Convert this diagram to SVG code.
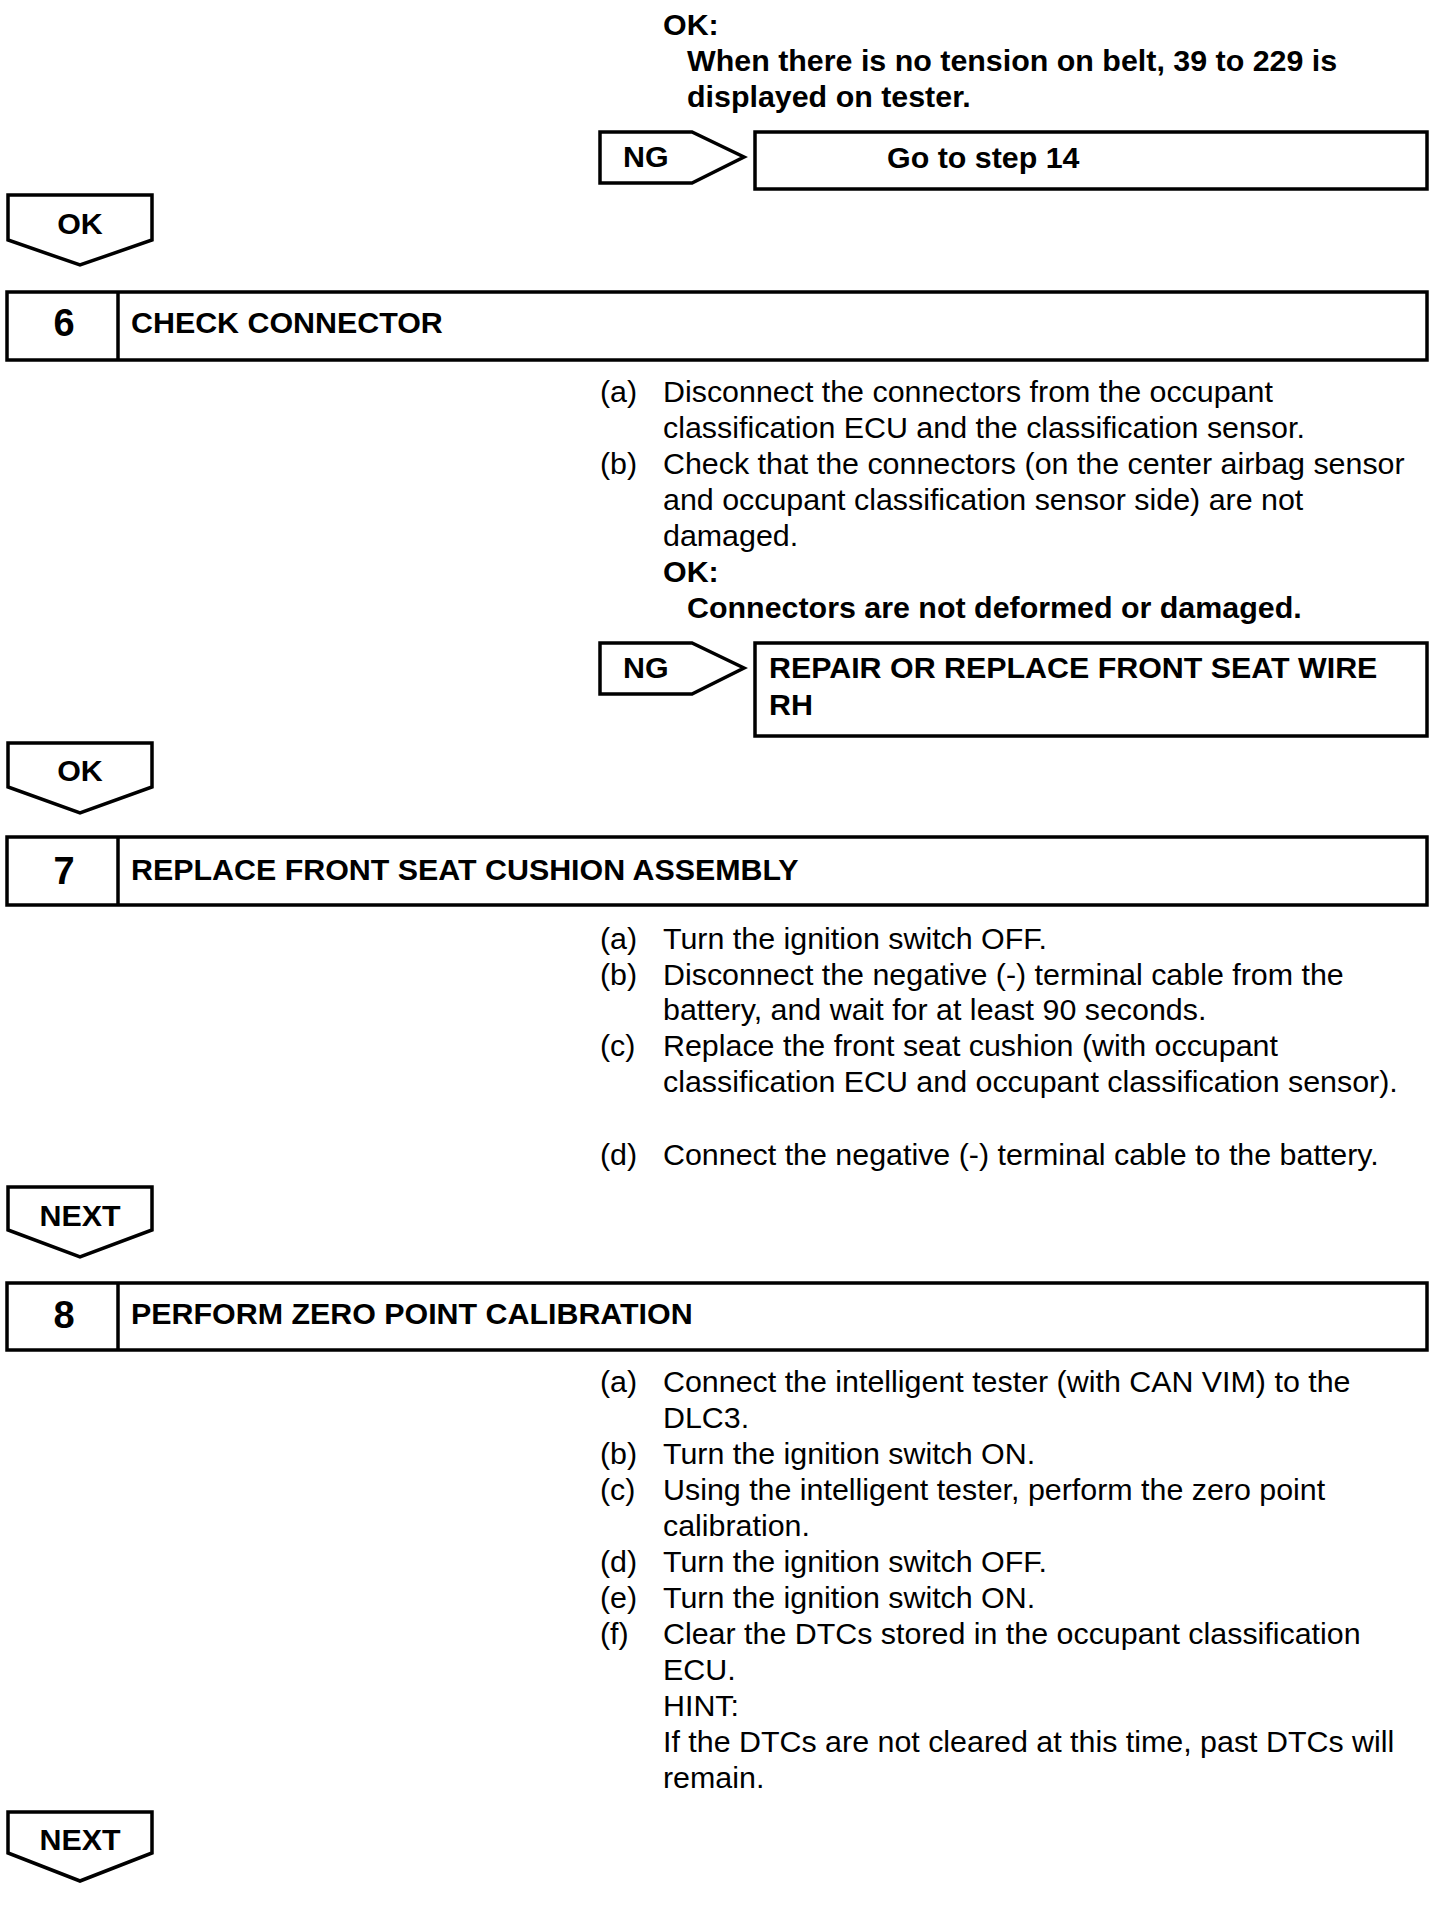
<svg xmlns="http://www.w3.org/2000/svg" width="1456" height="1908" viewBox="0 0 1456 1908">
<style>
text{font-family:"Liberation Sans",Arial,sans-serif;font-size:30.4px;fill:#000}
.b{font-weight:bold}
.c{text-anchor:middle}
.n{font-size:38px;font-weight:bold;text-anchor:middle}
.shape{fill:#fff;stroke:#000;stroke-width:3.5}
</style>
<rect width="1456" height="1908" fill="#fff"/>
<g id="connectors">
<path class="shape" d="M8,195 H152 V240 L80,265 L8,240 Z"/>
<path class="shape" d="M8,743 H152 V787 L80,813 L8,787 Z"/>
<path class="shape" d="M8,1187 H152 V1230 L80,1257 L8,1230 Z"/>
<path class="shape" d="M8,1812 H152 V1853 L80,1881 L8,1853 Z"/>
<path class="shape" d="M600,132 H692 L744,157 L692,183 H600 Z"/>
<path class="shape" d="M600,643 H692 L744,668 L692,694 H600 Z"/>
</g>
<g id="ok-top">
<text x="663" y="35" class="b">OK:</text>
<text x="687" y="71" class="b">When there is no tension on belt, 39 to 229 is</text>
<text x="687" y="107" class="b">displayed on tester.</text>
</g>
<g id="ng1"><text x="623" y="167" class="b">NG</text></g>
<g id="goto14">
<rect class="shape" x="755" y="132" width="672" height="57"/>
<text x="887" y="168" class="b">Go to step 14</text>
</g>
<g id="ok1"><text x="80" y="234" class="b c">OK</text></g>
<g id="step6">
<rect class="shape" x="7" y="292" width="1420" height="68"/>
<line x1="118" y1="292" x2="118" y2="360" stroke="#000" stroke-width="3.5"/>
<text x="64" y="336" class="n">6</text>
<text x="131" y="333" class="b">CHECK CONNECTOR</text>
</g>
<g id="step6-text">
<text x="600" y="402">(a)</text>
<text x="663" y="402">Disconnect the connectors from the occupant</text>
<text x="663" y="438">classification ECU and the classification sensor.</text>
<text x="600" y="474">(b)</text>
<text x="663" y="474">Check that the connectors (on the center airbag sensor</text>
<text x="663" y="510">and occupant classification sensor side) are not</text>
<text x="663" y="546">damaged.</text>
<text x="663" y="582" class="b">OK:</text>
<text x="687" y="618" class="b">Connectors are not deformed or damaged.</text>
</g>
<g id="ng2"><text x="623" y="678" class="b">NG</text></g>
<g id="repair">
<rect class="shape" x="755" y="643" width="672" height="93"/>
<text x="769" y="678" class="b">REPAIR OR REPLACE FRONT SEAT WIRE</text>
<text x="769" y="715" class="b">RH</text>
</g>
<g id="ok2"><text x="80" y="781" class="b c">OK</text></g>
<g id="step7">
<rect class="shape" x="7" y="837" width="1420" height="68"/>
<line x1="118" y1="837" x2="118" y2="905" stroke="#000" stroke-width="3.5"/>
<text x="64" y="884" class="n">7</text>
<text x="131" y="880" class="b">REPLACE FRONT SEAT CUSHION ASSEMBLY</text>
</g>
<g id="step7-text">
<text x="600" y="949">(a)</text>
<text x="663" y="949">Turn the ignition switch OFF.</text>
<text x="600" y="985">(b)</text>
<text x="663" y="985">Disconnect the negative (-) terminal cable from the</text>
<text x="663" y="1020">battery, and wait for at least 90 seconds.</text>
<text x="600" y="1056">(c)</text>
<text x="663" y="1056">Replace the front seat cushion (with occupant</text>
<text x="663" y="1092">classification ECU and occupant classification sensor).</text>
<text x="600" y="1165">(d)</text>
<text x="663" y="1165">Connect the negative (-) terminal cable to the battery.</text>
</g>
<g id="next1"><text x="80" y="1226" class="b c">NEXT</text></g>
<g id="step8">
<rect class="shape" x="7" y="1283" width="1420" height="67"/>
<line x1="118" y1="1283" x2="118" y2="1350" stroke="#000" stroke-width="3.5"/>
<text x="64" y="1328" class="n">8</text>
<text x="131" y="1324" class="b">PERFORM ZERO POINT CALIBRATION</text>
</g>
<g id="step8-text">
<text x="600" y="1392">(a)</text>
<text x="663" y="1392">Connect the intelligent tester (with CAN VIM) to the</text>
<text x="663" y="1428">DLC3.</text>
<text x="600" y="1464">(b)</text>
<text x="663" y="1464">Turn the ignition switch ON.</text>
<text x="600" y="1500">(c)</text>
<text x="663" y="1500">Using the intelligent tester, perform the zero point</text>
<text x="663" y="1536">calibration.</text>
<text x="600" y="1572">(d)</text>
<text x="663" y="1572">Turn the ignition switch OFF.</text>
<text x="600" y="1608">(e)</text>
<text x="663" y="1608">Turn the ignition switch ON.</text>
<text x="600" y="1644">(f)</text>
<text x="663" y="1644">Clear the DTCs stored in the occupant classification</text>
<text x="663" y="1680">ECU.</text>
<text x="663" y="1716">HINT:</text>
<text x="663" y="1752">If the DTCs are not cleared at this time, past DTCs will</text>
<text x="663" y="1788">remain.</text>
</g>
<g id="next2"><text x="80" y="1850" class="b c">NEXT</text></g>
</svg>
